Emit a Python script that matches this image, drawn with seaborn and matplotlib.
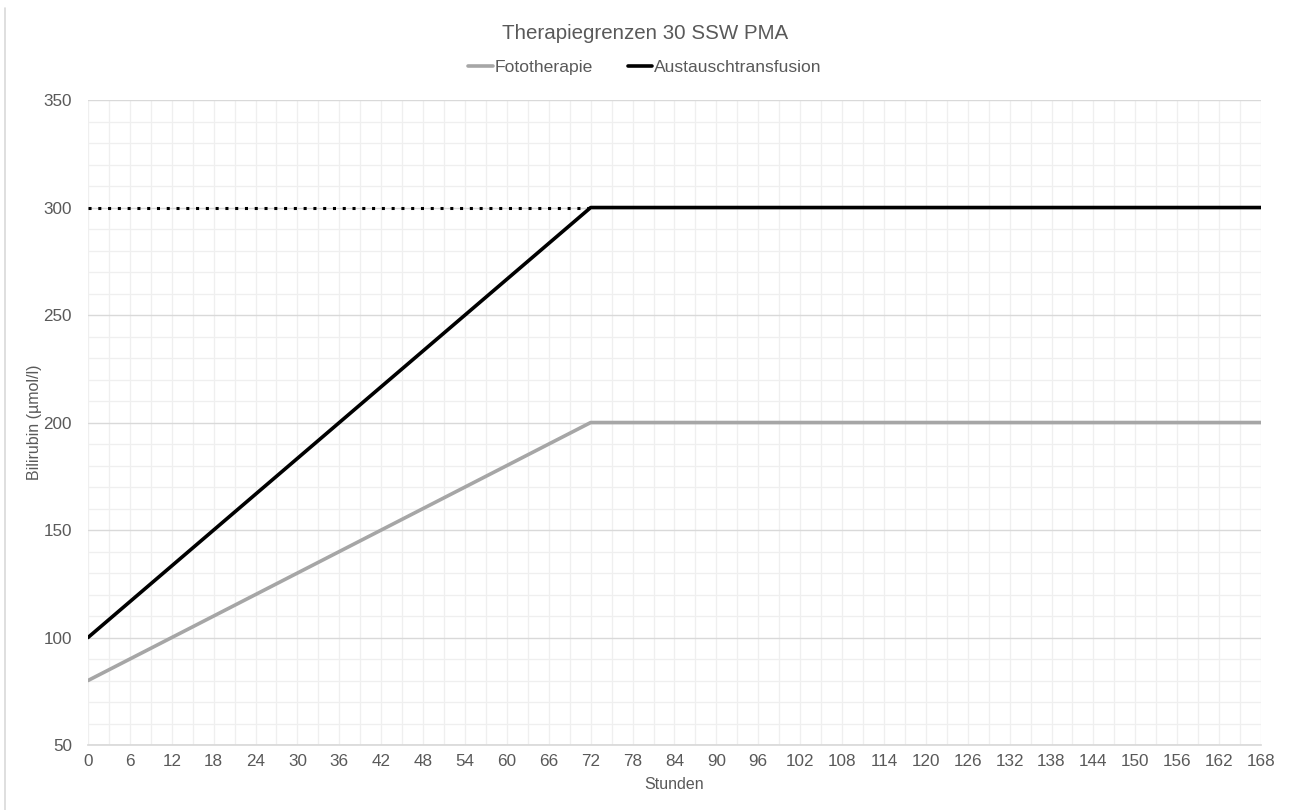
import numpy as np
import pandas as pd
import seaborn as sns
import matplotlib.pyplot as plt
from matplotlib.ticker import MultipleLocator
from matplotlib.lines import Line2D

# data
stunden = [0, 72, 168]
fototherapie = [80, 200, 200]
austausch = [100, 300, 300]
grenze_x = [0, 72]
grenze_y = [300, 300]

sns.set_theme(style="white")
plt.rcParams['font.family'] = ['Liberation Sans', 'DejaVu Sans']

df = pd.DataFrame({
    'Stunden': stunden * 2,
    'Bilirubin': fototherapie + austausch,
    'Reihe': ['Fototherapie'] * 3 + ['Austauschtransfusion'] * 3,
})

fig = plt.figure(figsize=(12.9, 8.1), dpi=100)
ax = fig.add_axes([0.0682, 0.0802, 0.9093, 0.7963])

sns.lineplot(data=df, x='Stunden', y='Bilirubin', hue='Reihe',
             palette={'Fototherapie': '#a6a6a6', 'Austauschtransfusion': '#000000'},
             linewidth=2.6, ax=ax, legend=False)
ax.plot(grenze_x, grenze_y, color='black', linestyle=(0, (1, 2.2)),
        linewidth=2.2, zorder=1)

ax.set_xlim(0, 168)
ax.set_ylim(50, 350)
ax.xaxis.set_major_locator(MultipleLocator(6))
ax.xaxis.set_minor_locator(MultipleLocator(3))
ax.yaxis.set_major_locator(MultipleLocator(50))
ax.yaxis.set_minor_locator(MultipleLocator(10))
ax.grid(True, which='major', axis='y', color='#d9d9d9', linewidth=1)
ax.grid(True, which='minor', axis='y', color='#efefef', linewidth=0.9)
ax.grid(True, which='both', axis='x', color='#efefef', linewidth=0.9)
ax.set_axisbelow(True)
for s in ['top', 'right', 'left']:
    ax.spines[s].set_visible(False)
ax.spines['bottom'].set_color('#d9d9d9')
ax.tick_params(which='both', length=0, labelsize=12.3, colors='#595959')
ax.tick_params(axis='y', pad=11.5)
ax.tick_params(axis='x', pad=6.5)

ax.set_xlabel('Stunden', fontsize=11.5, color='#595959', labelpad=6)
ax.set_ylabel('Bilirubin (µmol/l)', fontsize=11.5, color='#595959', labelpad=1)

fig.text(0.5, 0.959, 'Therapiegrenzen 30 SSW PMA', ha='center', va='center',
         fontsize=14.8, color='#595959')

handles = [Line2D([], [], color='#a6a6a6', linewidth=2.6),
           Line2D([], [], color='black', linewidth=2.6)]
fig.legend(handles, ['Fototherapie', 'Austauschtransfusion'], loc='center',
           bbox_to_anchor=(0.5, 0.917), ncol=2, frameon=False, fontsize=12.6,
           handlelength=1.4, handletextpad=0.1, columnspacing=2.0,
           labelcolor='#595959')

# thin border on the left edge of the picture
fig.add_artist(Line2D([0.0038, 0.0038], [0.0, 0.99], color='#d9d9d9',
                      linewidth=1.2, transform=fig.transFigure))

fig.savefig('out.png', dpi=100)
